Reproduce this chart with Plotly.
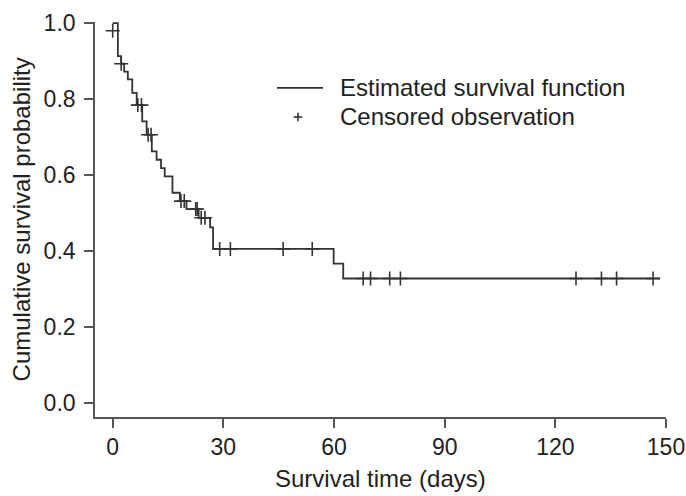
import numpy as np
import plotly.graph_objects as go

# Kaplan-Meier step function (time in days, survival after step)
step_times = [0.0, 1.4, 2.3, 3.1, 4.1, 5.3, 6.5, 8.0, 9.2, 10.6, 11.9, 13.1, 14.1, 16.2, 18.2,
              20.0, 23.3, 26.4, 27.2, 59.9, 62.5, 148.4]
step_surv = [1.0, 0.913, 0.893, 0.872, 0.852, 0.816, 0.784, 0.741, 0.706, 0.662, 0.640, 0.618,
             0.596, 0.553, 0.531, 0.510, 0.487, 0.462, 0.405, 0.366, 0.327, 0.327]

# Censored observations
censor_times = [0.0, 2.3, 6.8, 7.8, 9.6, 10.4, 18.5, 19.4, 22.5, 22.9, 24.0, 25.0,
                29.0, 31.9, 46.2, 54.1, 67.9, 69.9, 75.1, 78.0, 125.6, 132.5, 136.6, 146.5]
censor_surv = [0.98, 0.893, 0.784, 0.784, 0.706, 0.706, 0.531, 0.531, 0.510, 0.510, 0.487, 0.487,
               0.405, 0.405, 0.405, 0.405, 0.327, 0.327, 0.327, 0.327, 0.327, 0.327, 0.327, 0.327]

x_ticks = [0, 30, 60, 90, 120, 150]
y_ticks = [0.0, 0.2, 0.4, 0.6, 0.8, 1.0]
y_tick_labels = ["0.0", "0.2", "0.4", "0.6", "0.8", "1.0"]
legend_labels = ["Estimated survival function", "Censored observation"]

FONT = "Liberation Sans, Arial, sans-serif"
INK = "#333333"
TXT = "#222222"

fig = go.Figure()
fig.add_trace(go.Scatter(
    x=step_times, y=step_surv, mode="lines", line=dict(shape="hv", color=INK, width=1.8),
    name=legend_labels[0], showlegend=False))
fig.add_trace(go.Scatter(
    x=censor_times, y=censor_surv, mode="markers",
    marker=dict(symbol="cross-thin", size=10, line=dict(color=INK, width=1.6)),
    name=legend_labels[1], showlegend=False))

fig.update_layout(
    width=686, height=496,
    margin=dict(l=95, r=20, t=22, b=79, autoexpand=False),
    paper_bgcolor="white", plot_bgcolor="white",
    font=dict(family=FONT, size=23, color=TXT),
    showlegend=False,
    xaxis=dict(range=[-4.8, 150], tickmode="array", tickvals=x_ticks, automargin=False,
               showline=True, linecolor="#555555", linewidth=1.6, mirror=False,
               ticks="outside", ticklen=9, tickwidth=1.5, tickcolor="#555555",
               showgrid=False, zeroline=False, ticklabelstandoff=0),
    yaxis=dict(range=[-0.038, 1.003], tickmode="array", tickvals=y_ticks, ticktext=y_tick_labels,
               automargin=False,
               showline=True, linecolor="#555555", linewidth=1.6, mirror=False,
               ticks="outside", ticklen=9, tickwidth=1.5, tickcolor="#555555",
               showgrid=False, zeroline=False, ticklabelstandoff=4),
)
fig.add_annotation(text="Cumulative survival probability", textangle=-90,
                   xref="paper", yref="paper", x=-0.128, y=0.5, xanchor="center", yanchor="middle",
                   showarrow=False, font=dict(size=24, family=FONT, color=TXT))
fig.add_annotation(text="Survival time (days)",
                   xref="paper", yref="paper", x=0.5, y=-0.155, xanchor="center", yanchor="middle",
                   showarrow=False, font=dict(size=24, family=FONT, color=TXT))

# Legend (drawn in paper coordinates)
ly1, ly2 = 0.833, 0.7595
fig.add_shape(type="line", xref="paper", yref="paper", x0=0.3187, x1=0.3993, y0=ly1, y1=ly1,
              line=dict(color=INK, width=1.8))
px_, dx, dy = 0.3555, 0.0075, 0.0108
fig.add_shape(type="line", xref="paper", yref="paper", x0=px_ - dx, x1=px_ + dx, y0=ly2, y1=ly2,
              line=dict(color=INK, width=1.6))
fig.add_shape(type="line", xref="paper", yref="paper", x0=px_, x1=px_, y0=ly2 - dy, y1=ly2 + dy,
              line=dict(color=INK, width=1.6))
for lab, ly in zip(legend_labels, [ly1, ly2]):
    fig.add_annotation(text=lab, xref="paper", yref="paper", x=0.4256, y=ly,
                       xanchor="left", yanchor="middle", showarrow=False,
                       font=dict(size=24, family=FONT, color=TXT))

fig.write_html("out.html")
